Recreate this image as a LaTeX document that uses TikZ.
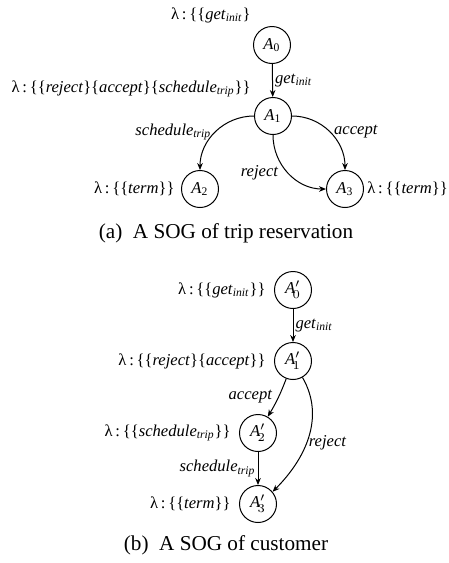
\documentclass[tikz,border=0pt]{standalone}
\usepackage{fontspec}
\setmainfont{Liberation Serif}
\usetikzlibrary{arrows.meta}
\newcommand\myit[1]{\textit{#1}}
\newcommand\mysb[2]{\textit{#1}\textsubscript{\textit{#2}}}
\newcommand\mylam{λ\,:\,}
\begin{document}
\begin{tikzpicture}[x=0.5pt,y=-0.5pt,
  st/.style={circle,draw,line width=0.5pt,minimum size=18.5pt,inner sep=0pt,font=\fontsize{8.3}{9}\selectfont},
  lbl/.style={font=\fontsize{8.3}{9}\selectfont,inner sep=1pt},
  captxt/.style={font=\fontsize{10.6}{12}\selectfont},
  conn/.style={-{Stealth[length=3.5pt,width=2.8pt]},line width=0.5pt}]
\useasboundingbox (0,0) rectangle (449,563);
% (a)
\node[st] (a0) at (272,45) {\myit{A}\textsubscript{0}};
\node[st] (a1) at (273,116) {\myit{A}\textsubscript{1}};
\node[st] (a2) at (200,189) {\myit{A}\textsubscript{2}};
\node[st] (a3) at (345,189) {\myit{A}\textsubscript{3}};
\node[lbl,anchor=east] (l0) at (253,15) {\mylam\{\{\mysb{get}{init}\}};
\node[lbl,anchor=east] (l1) at (253,89) {\mylam\{\{\myit{reject}\}\{\myit{accept}\}\{\mysb{schedule}{trip}\}\}};
\node[lbl,anchor=east] (l2) at (177,189) {\mylam\{\{\myit{term}\}\}};
\node[lbl,anchor=west] (l3) at (365,189) {\mylam\{\{\myit{term}\}\}};
\draw[conn] (a0) -- node[lbl,right,pos=0.5] {\mysb{get}{init}} (a1);
\draw[conn] (a1.west) to[out=180,in=90] node[lbl,pos=0.5,left=1pt] {\mysb{schedule}{trip}} (a2.north);
\draw[conn] (a1.east) to[out=0,in=90] node[lbl,pos=0.5,right=1pt] {\myit{accept}} (a3.north);
\draw[conn] (a1.south) to[out=-90,in=180] node[lbl,pos=0.35,below left] {\myit{reject}} (a3.west);
\node[captxt] (ca) at (226,233) {(a)\ \ A SOG of trip reservation};
% (b)
\node[st] (b0) at (293,290) {\myit{A}$'_{\!0}$};
\node[st] (b1) at (293,361) {\myit{A}$'_{\!1}$};
\node[st] (b2) at (258,433) {\myit{A}$'_{\!2}$};
\node[st] (b3) at (258,504) {\myit{A}$'_{\!3}$};
\node[lbl,anchor=east] (m0) at (268,290) {\mylam\{\{\mysb{get}{init}\}\}};
\node[lbl,anchor=east] (m1) at (268,361) {\mylam\{\{\myit{reject}\}\{\myit{accept}\}\}};
\node[lbl,anchor=east] (m2) at (233,433) {\mylam\{\{\mysb{schedule}{trip}\}\}};
\node[lbl,anchor=east] (m3) at (233,504) {\mylam\{\{\myit{term}\}\}};
\draw[conn] (b0) -- node[lbl,right,pos=0.5] {\mysb{get}{init}} (b1);
\draw[conn] (b1) to[bend left=5] node[lbl,pos=0.45,left=2pt] {\myit{accept}} (b2);
\draw[conn] (b2) -- node[lbl,left,pos=0.5] {\mysb{schedule}{trip}} (b3);
\draw[conn] (b1.-60) to[out=-60,in=45] node[lbl,pos=0.55,right] {\myit{reject}} (b3.40);
\node[captxt] (cb) at (226,545) {(b)\ \ A SOG of customer};
\end{tikzpicture}
\end{document}
